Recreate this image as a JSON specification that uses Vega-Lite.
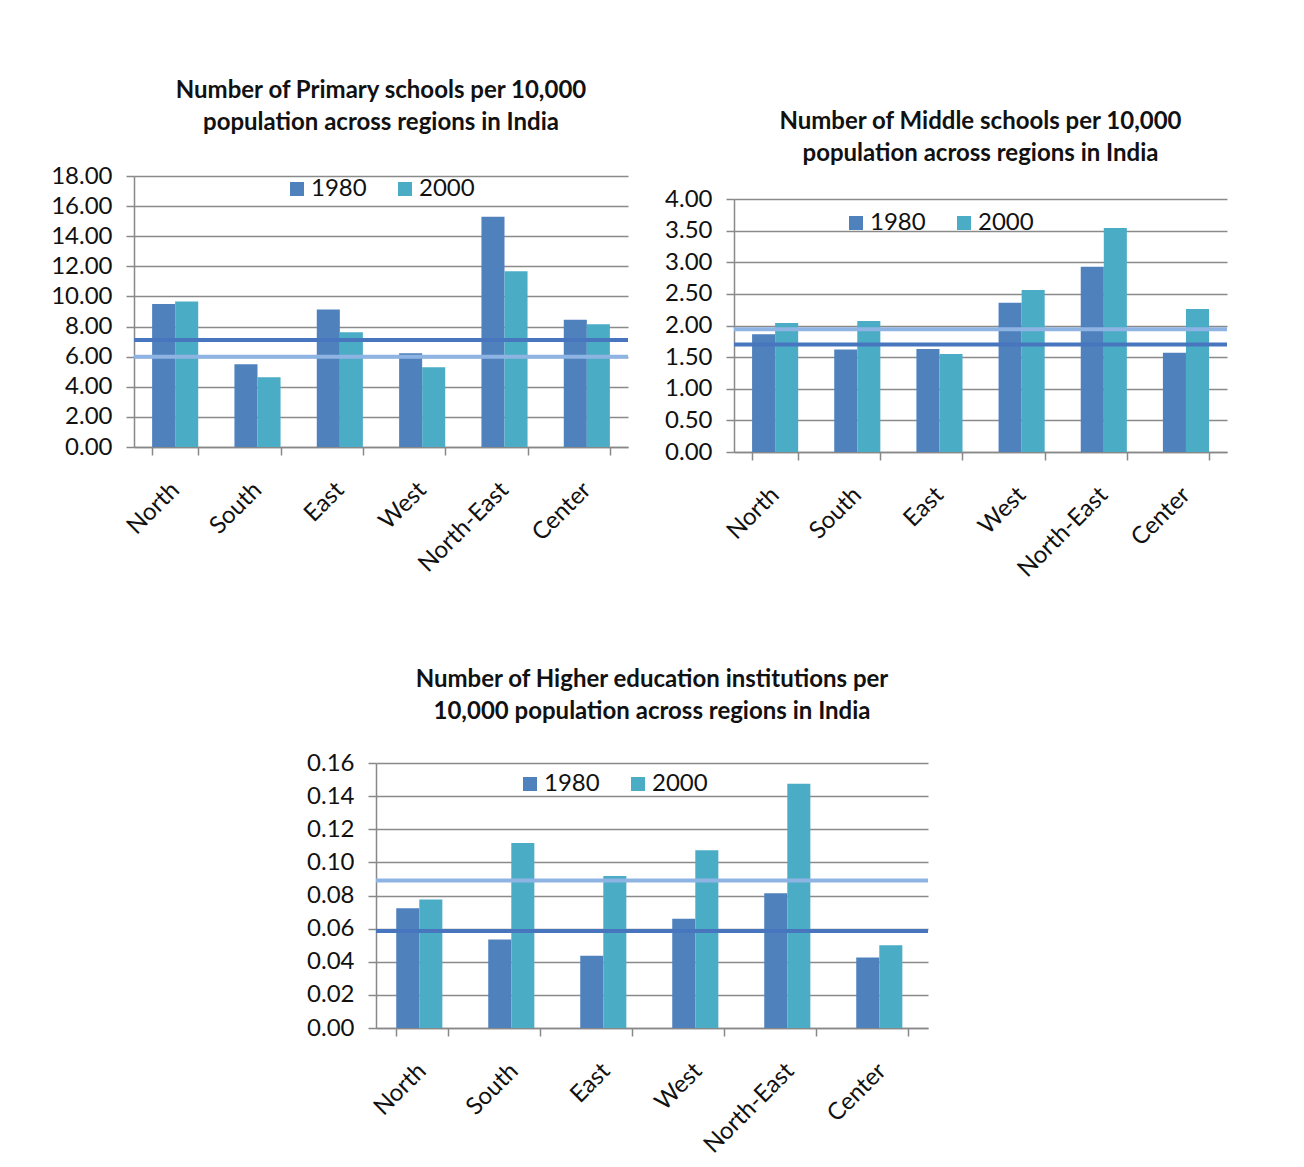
{
  "$schema": "https://vega.github.io/schema/vega-lite/v6.json",
  "background": "white",
  "padding": {"left": 50, "top": 79, "right": 5, "bottom": 5},
  "config": {
    "font": "Lato",
    "view": {"stroke": null},
    "title": {"font": "Lato", "fontSize": 24, "fontWeight": "bold", "color": "#111", "lineHeight": 32, "anchor": "middle"},
    "axis": {"labelFont": "Lato", "labelFontSize": 24, "labelColor": "#111", "domainColor": "#888", "tickColor": "#888", "gridColor": "#8a8a8a", "gridWidth": 1.5, "domainWidth": 1.5, "tickWidth": 1.5, "labelOverlap": false},
    "legend": {"labelFont": "Lato", "labelFontSize": 24, "labelColor": "#111", "symbolType": "square", "symbolSize": 196, "symbolStrokeWidth": 0, "direction": "horizontal", "orient": "none", "columnPadding": 26, "labelOffset": 2}
  },
  "datasets": {
    "primary": [
      {"region": "North", "year": "1980", "value": 9.50},
      {"region": "North", "year": "2000", "value": 9.67},
      {"region": "South", "year": "1980", "value": 5.50},
      {"region": "South", "year": "2000", "value": 4.64},
      {"region": "East", "year": "1980", "value": 9.14},
      {"region": "East", "year": "2000", "value": 7.62},
      {"region": "West", "year": "1980", "value": 6.23},
      {"region": "West", "year": "2000", "value": 5.30},
      {"region": "North-East", "year": "1980", "value": 15.30},
      {"region": "North-East", "year": "2000", "value": 11.68},
      {"region": "Center", "year": "1980", "value": 8.46},
      {"region": "Center", "year": "2000", "value": 8.15}
    ],
    "primaryLines": [
      {"year": "1980", "value": 7.1},
      {"year": "2000", "value": 6.0}
    ],
    "middle": [
      {"region": "North", "year": "1980", "value": 1.86},
      {"region": "North", "year": "2000", "value": 2.04},
      {"region": "South", "year": "1980", "value": 1.62},
      {"region": "South", "year": "2000", "value": 2.07},
      {"region": "East", "year": "1980", "value": 1.63},
      {"region": "East", "year": "2000", "value": 1.55},
      {"region": "West", "year": "1980", "value": 2.36},
      {"region": "West", "year": "2000", "value": 2.56},
      {"region": "North-East", "year": "1980", "value": 2.93},
      {"region": "North-East", "year": "2000", "value": 3.54},
      {"region": "Center", "year": "1980", "value": 1.57},
      {"region": "Center", "year": "2000", "value": 2.26}
    ],
    "middleLines": [
      {"year": "1980", "value": 1.70},
      {"year": "2000", "value": 1.94}
    ],
    "higher": [
      {"region": "North", "year": "1980", "value": 0.0723},
      {"region": "North", "year": "2000", "value": 0.0776},
      {"region": "South", "year": "1980", "value": 0.0535},
      {"region": "South", "year": "2000", "value": 0.1117},
      {"region": "East", "year": "1980", "value": 0.0436},
      {"region": "East", "year": "2000", "value": 0.0917},
      {"region": "West", "year": "1980", "value": 0.0660},
      {"region": "West", "year": "2000", "value": 0.1073},
      {"region": "North-East", "year": "1980", "value": 0.0814},
      {"region": "North-East", "year": "2000", "value": 0.1475},
      {"region": "Center", "year": "1980", "value": 0.0426},
      {"region": "Center", "year": "2000", "value": 0.0499}
    ],
    "higherLines": [
      {"year": "1980", "value": 0.0586},
      {"year": "2000", "value": 0.0891}
    ]
  },
  "vconcat": [
    {
      "hconcat": [
        {
          "width": 494,
          "height": 271,
          "title": {"text": ["Number of Primary schools per 10,000", "population across regions in India"], "offset": 29},
          "layer": [
            {
              "data": {"name": "primary"},
              "mark": {"type": "bar"},
              "encoding": {
                "x": {"field": "region", "type": "nominal", "sort": ["North", "South", "East", "West", "North-East", "Center"], "scale": {"paddingInner": 0.44, "paddingOuter": 0.22}, "axis": {"title": null, "labelAngle": -45, "labelAlign": "right", "labelBaseline": "middle", "tickBand": "extent", "tickSize": 8, "labelPadding": 31, "grid": false}},
                "xOffset": {"field": "year", "type": "nominal"},
                "y": {"field": "value", "type": "quantitative", "scale": {"domain": [0, 18], "nice": false}, "axis": {"title": null, "values": [0, 2, 4, 6, 8, 10, 12, 14, 16, 18], "tickCount": 20, "format": ".2f", "tickSize": 8, "labelPadding": 14, "labelOverlap": false}},
                "color": {"field": "year", "type": "nominal", "scale": {"domain": ["1980", "2000"], "range": ["#4F81BD", "#4BACC6"]}, "legend": {"title": null, "legendX": 151, "legendY": 1}}
              }
            },
            {
              "data": {"name": "primaryLines"},
              "mark": {"type": "rule", "strokeWidth": 4},
              "encoding": {
                "y": {"field": "value", "type": "quantitative"},
                "color": {"field": "year", "type": "nominal", "scale": {"domain": ["1980", "2000"], "range": ["#4776BE", "#8EB4E3"]}, "legend": null}
              }
            }
          ],
          "resolve": {"scale": {"color": "independent"}}
        },
        {
          "width": 493,
          "height": 276,
          "title": {"text": ["Number of Middle schools per 10,000", "population across regions in India"], "offset": 10},
          "layer": [
            {
              "data": {"name": "middle"},
              "mark": {"type": "bar"},
              "encoding": {
                "x": {"field": "region", "type": "nominal", "sort": ["North", "South", "East", "West", "North-East", "Center"], "scale": {"paddingInner": 0.44, "paddingOuter": 0.22}, "axis": {"title": null, "labelAngle": -45, "labelAlign": "right", "labelBaseline": "middle", "tickBand": "extent", "tickSize": 8, "labelPadding": 31, "grid": false}},
                "xOffset": {"field": "year", "type": "nominal"},
                "y": {"field": "value", "type": "quantitative", "scale": {"domain": [0, 4], "nice": false, "range": [276, 23]}, "axis": {"title": null, "values": [0, 0.5, 1, 1.5, 2, 2.5, 3, 3.5, 4], "tickCount": 20, "format": ".2f", "tickSize": 8, "labelPadding": 14, "labelOverlap": false}},
                "color": {"field": "year", "type": "nominal", "scale": {"domain": ["1980", "2000"], "range": ["#4F81BD", "#4BACC6"]}, "legend": {"title": null, "legendX": 110, "legendY": 35}}
              }
            },
            {
              "data": {"name": "middleLines"},
              "mark": {"type": "rule", "strokeWidth": 4},
              "encoding": {
                "y": {"field": "value", "type": "quantitative"},
                "color": {"field": "year", "type": "nominal", "scale": {"domain": ["1980", "2000"], "range": ["#4776BE", "#8EB4E3"]}, "legend": null}
              }
            }
          ],
          "resolve": {"scale": {"color": "independent"}}
        }
      ],
      "spacing": 34
    },
    {
      "hconcat": [
        {
          "width": 172,
          "height": 10,
          "view": {"fill": "white", "stroke": null},
          "data": {"values": []},
          "mark": "point"
        },
        {
          "width": 552,
          "height": 265,
          "title": {"text": ["Number of Higher education institutions per", "10,000 population across regions in India"], "offset": 27},
          "layer": [
            {
              "data": {"name": "higher"},
              "mark": {"type": "bar"},
              "encoding": {
                "x": {"field": "region", "type": "nominal", "sort": ["North", "South", "East", "West", "North-East", "Center"], "scale": {"paddingInner": 0.44, "paddingOuter": 0.22}, "axis": {"title": null, "labelAngle": -45, "labelAlign": "right", "labelBaseline": "middle", "tickBand": "extent", "tickSize": 8, "labelPadding": 31, "grid": false}},
                "xOffset": {"field": "year", "type": "nominal"},
                "y": {"field": "value", "type": "quantitative", "scale": {"domain": [0, 0.16], "nice": false}, "axis": {"title": null, "values": [0, 0.02, 0.04, 0.06, 0.08, 0.1, 0.12, 0.14, 0.16], "tickCount": 20, "format": ".2f", "tickSize": 8, "labelPadding": 14, "labelOverlap": false}},
                "color": {"field": "year", "type": "nominal", "scale": {"domain": ["1980", "2000"], "range": ["#4F81BD", "#4BACC6"]}, "legend": {"title": null, "legendX": 142, "legendY": 9}}
              }
            },
            {
              "data": {"name": "higherLines"},
              "mark": {"type": "rule", "strokeWidth": 4},
              "encoding": {
                "y": {"field": "value", "type": "quantitative"},
                "color": {"field": "year", "type": "nominal", "scale": {"domain": ["1980", "2000"], "range": ["#4776BE", "#8EB4E3"]}, "legend": null}
              }
            }
          ],
          "resolve": {"scale": {"color": "independent"}}
        }
      ],
      "spacing": 0
    }
  ],
  "spacing": 86
}
